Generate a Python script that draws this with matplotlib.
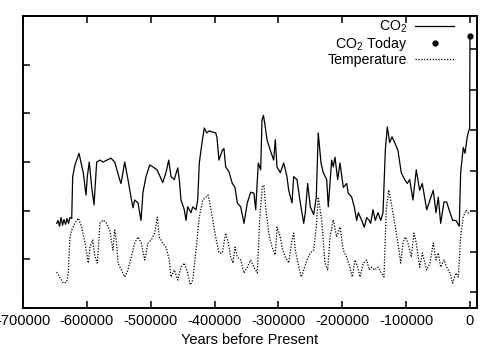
import matplotlib
matplotlib.use("Agg")
import matplotlib.pyplot as plt

plt.rcParams['font.family'] = ['Liberation Sans', 'DejaVu Sans']
plt.rcParams['mathtext.fontset'] = 'custom'
plt.rcParams['mathtext.rm'] = 'Liberation Sans'
plt.rcParams['mathtext.it'] = 'Liberation Sans:italic'
plt.rcParams['mathtext.bf'] = 'Liberation Sans:bold'
plt.rcParams['mathtext.default'] = 'rm'
plt.rcParams['axes.unicode_minus'] = False

# ---- data ----
co2_years = [-647200, -645200, -642800, -640500, -638100, -635800, -633400, -631100, -628700, -626400,
             -623700, -622200, -618600, -612300, -605600, -601300, -599300, -596200, -592400, -588800,
             -584600, -579400, -574700, -568500, -562200, -556400, -548600, -546500, -540700, -535600,
             -530900, -527700, -525100, -519900, -515200, -512100, -507400, -501600, -496400, -490200,
             -486600, -481200, -476100, -471800, -468200, -463100, -457700, -455200, -452600, -447400,
             -444700, -442100, -436900, -434200, -429100, -426400, -423900, -419700, -416100, -412300,
             -408300, -404000, -398200, -396200, -393100, -387900, -385300, -382600, -377400, -372200,
             -368000, -364400, -359100, -353900, -348700, -343400, -338300, -335600, -331500, -327800,
             -325700, -323400, -321000, -317900, -312700, -307400, -304900, -302200, -297100, -291700,
             -286600, -283900, -278700, -276100, -270900, -265700, -260400, -257900, -254200, -250100,
             -244800, -240700, -237600, -233300, -229700, -224400, -221900, -216600, -214100, -211400,
             -207200, -203600, -198400, -193100, -190600, -185300, -181200, -177400, -174900, -169600,
             -165500, -161800, -157700, -155500, -151900, -148300, -144100, -139800, -136200, -132600,
             -129500, -125700, -122100, -117900, -112800, -107600, -102300, -98200, -94400, -89300,
             -84100, -78800, -74700, -67800, -62600, -57500, -53200, -49600, -45900, -40700,
             -36500, -31300, -27100, -22000, -16800, -14600, -10500, -7800, -4200, -1500,
             -500, 0]
co2_ppm = [187, 190, 184, 193, 185, 191, 186, 192, 187, 193,
           192, 235, 247, 259, 239, 216, 235, 250, 224, 206,
           250, 252, 250, 252, 254, 250, 232, 228, 250, 232,
           214, 203, 211, 208, 190, 219, 235, 247, 245, 242,
           237, 229, 239, 252, 235, 232, 244, 232, 211, 201,
           190, 204, 198, 204, 201, 211, 249, 270, 285, 280,
           282, 281, 280, 275, 252, 262, 264, 245, 240, 228,
           224, 208, 204, 187, 208, 219, 218, 201, 249, 242,
           293, 298, 288, 273, 262, 252, 273, 245, 239, 249,
           235, 221, 208, 235, 232, 208, 187, 198, 228, 204,
           196, 214, 280, 249, 239, 232, 204, 252, 245, 255,
           232, 249, 224, 228, 218, 214, 204, 190, 198, 190,
           183, 193, 190, 187, 201, 190, 198, 190, 198, 262,
           286, 270, 276, 270, 262, 239, 232, 228, 232, 211,
           242, 221, 228, 201, 211, 221, 198, 214, 187, 209,
           209, 198, 190, 190, 184, 239, 265, 259, 276, 283,
           285, 378]

today_year = [0]
today_ppm = [380]

temp_years = [-647200, -642000, -636900, -631600, -629100, -626400, -623700, -618600, -613400, -608100,
              -602900, -597700, -595100, -590900, -587300, -583600, -579400, -574300, -569600, -564200,
              -559100, -556400, -553900, -551200, -546100, -540700, -535600, -530400, -525100, -519900,
              -514700, -509400, -504300, -499100, -493800, -489700, -486600, -481200, -476100, -470900,
              -468200, -463100, -457700, -452600, -447400, -442100, -438000, -434200, -429100, -423900,
              -418600, -413400, -410300, -408300, -403600, -398200, -393100, -387900, -382600, -378500,
              -374700, -371100, -368000, -364400, -359100, -353900, -348700, -343400, -338300, -333100,
              -329300, -325300, -322600, -319500, -315200, -310100, -304900, -302200, -297100, -293300,
              -289200, -283900, -278700, -276100, -273600, -269400, -264200, -260400, -255300, -250100,
              -244800, -240700, -237600, -232300, -227100, -222800, -219200, -214100, -208800, -203600,
              -198400, -193100, -188000, -184300, -180100, -175900, -172300, -167100, -161800, -157700,
              -154600, -149200, -144100, -138900, -134700, -131100, -127300, -123300, -117900, -112800,
              -108500, -104900, -101300, -97100, -91900, -87700, -84100, -78800, -74700, -67800,
              -62600, -57500, -53200, -49600, -45900, -40700, -36500, -31300, -27100, -22000,
              -18300, -14600, -10500, -6300, -2700, 0]
temp_vals = [-3.01, -3.31, -3.56, -3.51, -3.06, -1.28, -0.94, -0.59, -0.35, -0.79,
             -1.58, -2.57, -1.78, -1.43, -2.27, -2.57, -0.59, -0.44, -0.59, -0.94,
             -1.93, -0.94, -1.43, -2.57, -2.91, -3.26, -2.91, -2.27, -1.58, -1.28,
             -1.58, -2.42, -1.58, -1.43, -1.09, -0.30, -1.28, -1.58, -1.78, -2.42,
             -3.26, -2.91, -3.41, -2.77, -2.57, -3.06, -3.65, -3.41, -1.93, -0.30,
             0.54, 0.69, 0.79, 0.54, -0.30, -1.28, -2.07, -2.07, -1.09, -1.58,
             -2.27, -2.57, -1.78, -2.27, -2.42, -3.06, -2.77, -2.42, -2.77, -3.06,
             -0.44, 1.19, 1.28, 0.05, -1.09, -1.78, -2.17, -0.79, -1.28, -1.93,
             -2.27, -2.57, -1.43, -1.09, -1.93, -2.57, -3.26, -2.91, -2.42, -2.07,
             -1.93, -0.79, 0.69, -0.44, -2.57, -2.91, -1.28, -0.44, -1.28, -0.79,
             -1.93, -2.27, -2.77, -3.26, -2.42, -2.77, -3.26, -2.57, -2.42, -2.91,
             -2.77, -2.91, -2.77, -3.06, -3.26, 0.05, 1.04, 0.40, -0.59, -1.58,
             -2.57, -1.58, -1.28, -1.58, -2.27, -1.09, -1.58, -2.77, -2.07, -2.91,
             -2.57, -1.58, -2.42, -2.07, -2.77, -2.42, -2.77, -3.06, -3.56, -3.06,
             -3.26, -1.28, -0.30, 0.05, -0.10, -0.05]

xticks = [-700000, -600000, -500000, -400000, -300000, -200000, -100000, 0]
xtick_labels = ['-700000', '-600000', '-500000', '-400000', '-300000', '-200000', '-100000', '0']
co2_ticks = [100, 150, 200, 250, 300, 350, 400]
temp_ticks = [-4, -2, 0, 2, 4, 6, 8]

# ---- figure ----
fig = plt.figure(figsize=(5, 3.5), dpi=100)
ax = fig.add_axes([0.046, 0.12, 0.908, 0.834])
ax2 = ax.twinx()

fs = 10.5
l_co2, = ax.plot(co2_years, co2_ppm, color='black', lw=0.9, label='CO$_2$')
l_today, = ax.plot(today_year, today_ppm, 'o', color='black', ms=3.5, label='CO$_2$ Today')
l_temp, = ax2.plot(temp_years, temp_vals, color='black', lw=0.9, linestyle=(0, (1, 1.3)),
                   label='Temperature')

ax.set_xlim(-700000, 11000)
ax.set_ylim(100, 400)
ax2.set_ylim(-4.79, 9.63)

ax.set_xticks(xticks)
ax.set_xticklabels(xtick_labels, fontsize=fs)
ax.set_yticks(co2_ticks)
ax2.set_yticks(temp_ticks)

ax.tick_params(axis='x', direction='in', top=True, bottom=True, length=5, width=1.1, pad=4)
ax.tick_params(axis='y', direction='in', left=True, right=False, labelleft=False, length=5, width=1.1)
ax2.tick_params(axis='y', direction='in', right=True, left=False, labelright=False, length=5, width=1.1)

for a in (ax, ax2):
    for s in a.spines.values():
        s.set_linewidth(1.2)

ax.set_xlabel('Years before Present', fontsize=fs, labelpad=4)

ax2.legend(handles=[l_co2, l_today, l_temp], loc='upper right', frameon=False,
           bbox_to_anchor=(0.955, 1.0), borderaxespad=0.0,
           markerfirst=False, fontsize=10.2, handlelength=2.7, labelspacing=0.0,
           borderpad=0.2, handletextpad=0.6, numpoints=1)

fig.savefig('out.png', dpi=100)
